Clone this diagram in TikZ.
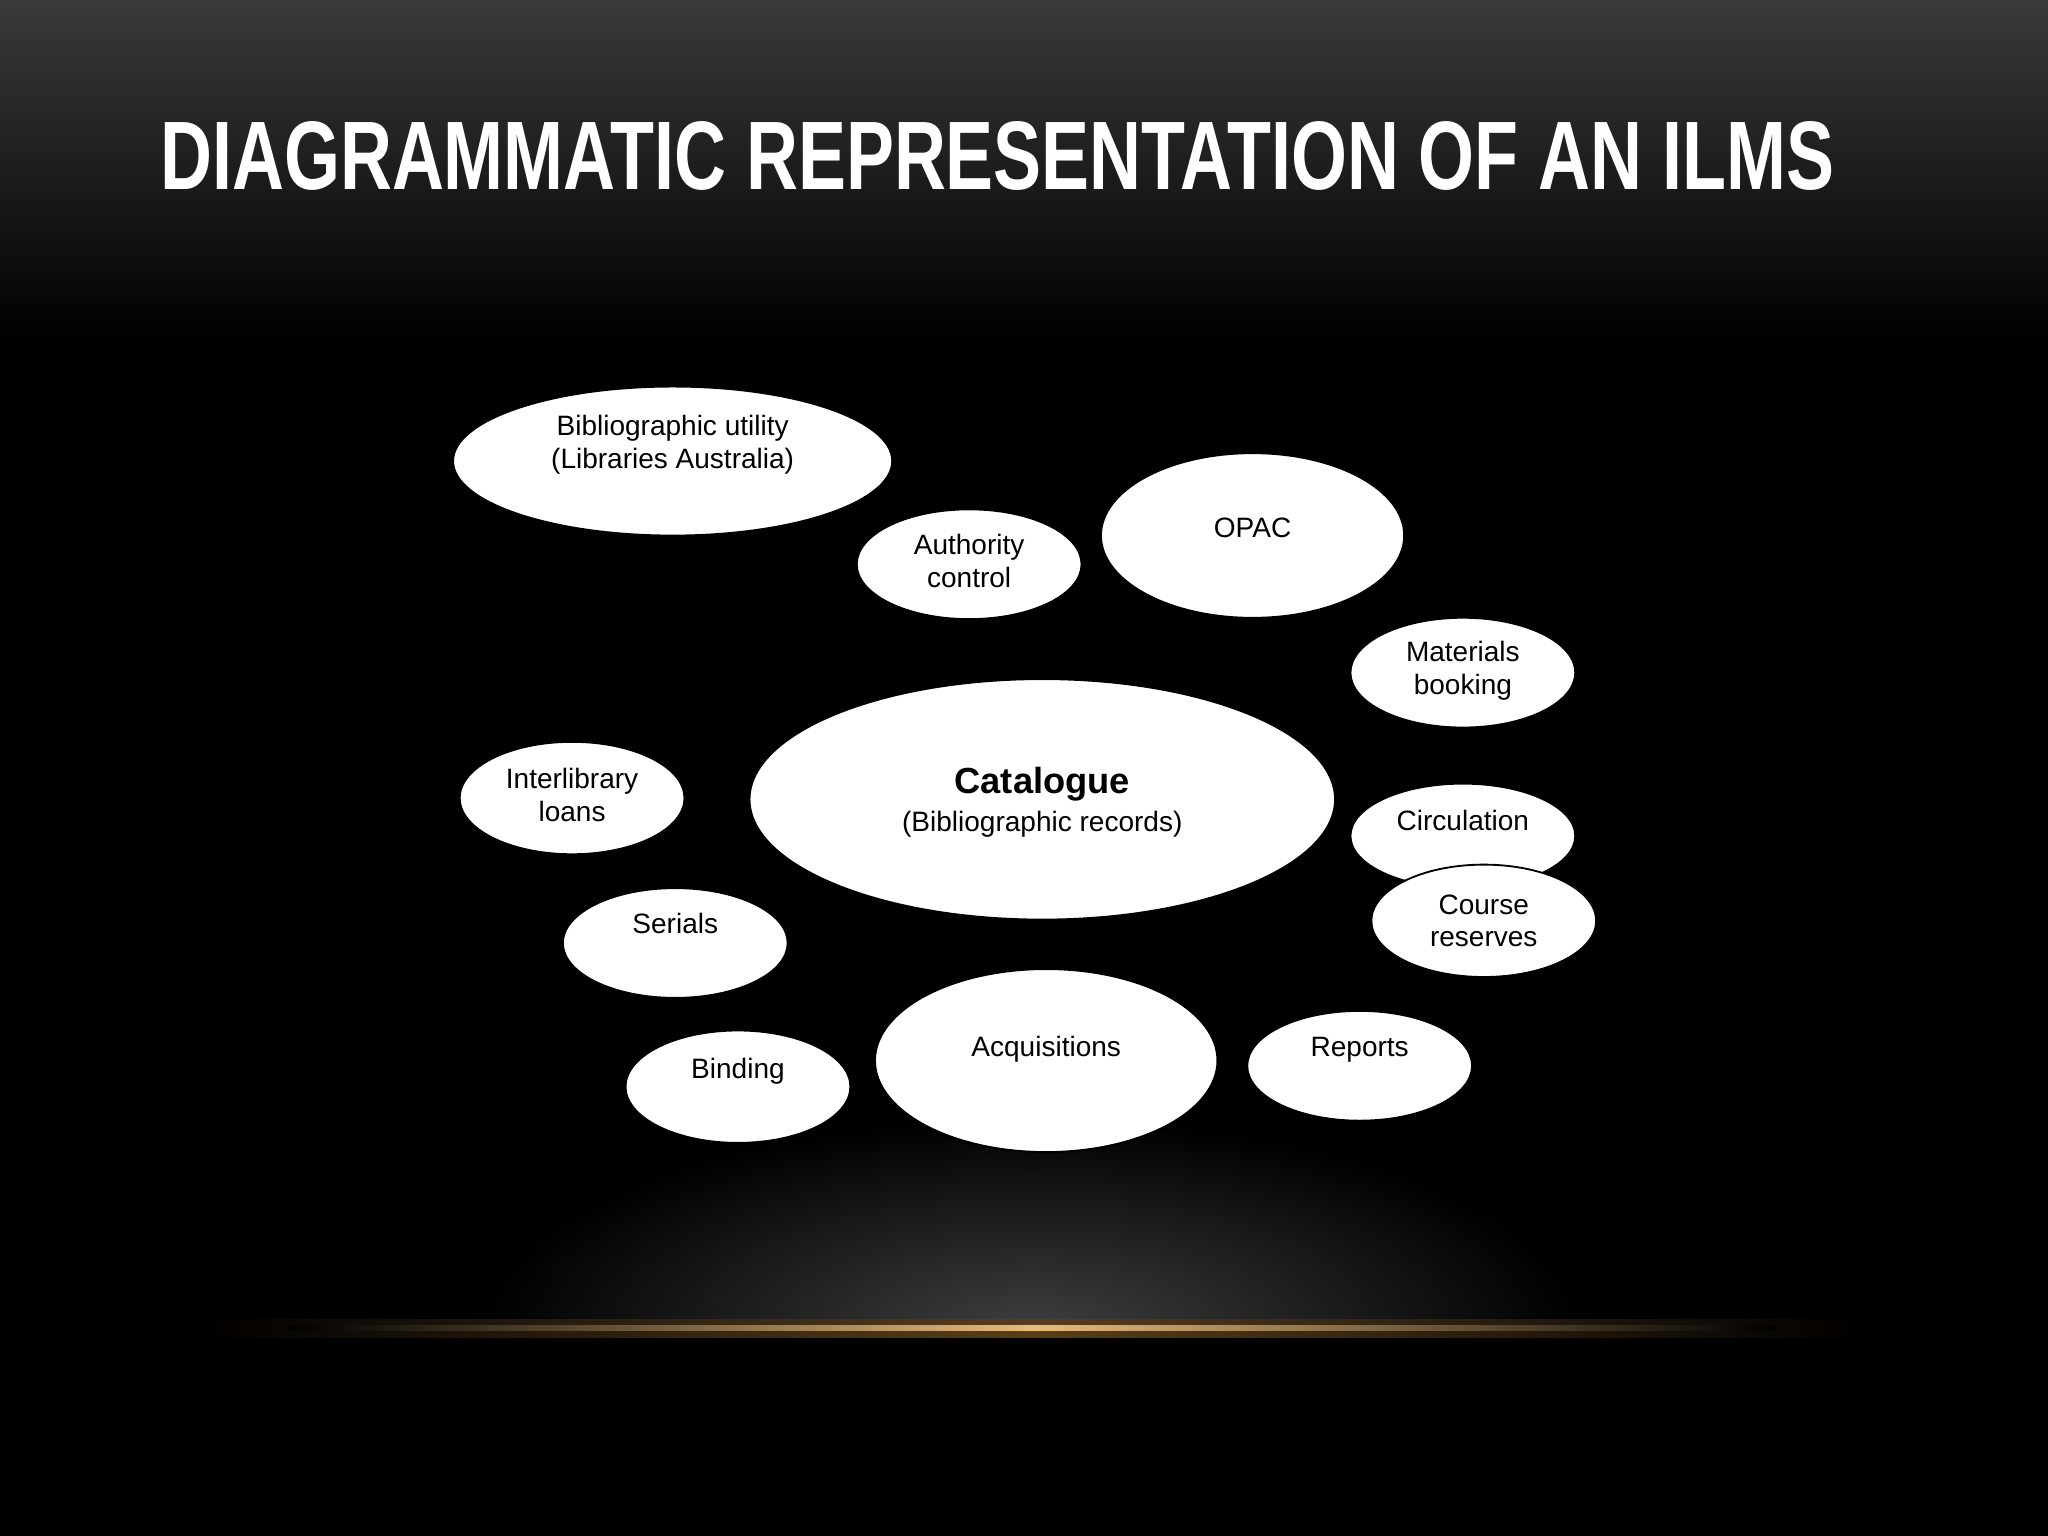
\documentclass[tikz,border=0pt]{standalone}
\usepackage{fontspec}
\setmainfont{Liberation Sans}
\usetikzlibrary{shapes.geometric}
\definecolor{topgray}{HTML}{3A3A3A}
\definecolor{glowgray}{HTML}{3E3E3E}
\definecolor{linegold}{HTML}{E8BC7C}
\definecolor{bandgold}{HTML}{5A3E1C}

\begin{document}
\begin{tikzpicture}[x=0.01cm,y=-0.01cm,
  module/.style={ellipse,fill=white,draw=black,thin,inner sep=0pt,align=center,
    text=black,font=\fontsize{6.1}{7.1}\selectfont}]
\useasboundingbox (0,0) rectangle (1568,1176);
\fill[black] (0,0) rectangle (1568,1176);
\shade[top color=topgray,bottom color=black] (0,0) rectangle (1568,260);
% spotlight above the line
\begin{scope}
  \clip (0,860) rectangle (1568,1017);
  \shade[inner color=glowgray,outer color=black] (790,1017) ellipse [x radius=420,y radius=160];
\end{scope}
\shade[left color=black,right color=black,middle color=bandgold] (150,1010) rectangle (1430,1024);
\shade[left color=black,right color=black,middle color=linegold] (220,1015) rectangle (1360,1019);
% title
\node[anchor=base west,inner sep=0pt,text=white] (title) at (122,145)
  {\resizebox{12.81cm}{0.52cm}{\bfseries DIAGRAMMATIC REPRESENTATION OF AN ILMS}};
% modules
\node[module,minimum width=3.36cm,minimum height=1.14cm,text depth=8.4pt] (bibutil) at (515,353) {Bibliographic utility\\(Libraries Australia)};
\node[module,minimum width=1.72cm,minimum height=0.84cm,text depth=1.4pt] (authority) at (742,432) {Authority\\control};
\node[module,minimum width=2.32cm,minimum height=1.26cm,text depth=3.4pt] (opac) at (959,410) {OPAC};
\node[module,minimum width=1.72cm,minimum height=0.84cm,text depth=2.2pt] (booking) at (1120,515) {Materials\\booking};
\node[module,minimum width=4.48cm,minimum height=1.84cm,text depth=-1.5pt,font=\fontsize{6.1}{8.3}\selectfont] (catalogue) at (798,612)
  {{\fontsize{7.9}{8.3}\selectfont\bfseries Catalogue}\\(Bibliographic records)};
\node[module,minimum width=1.72cm,minimum height=0.86cm,text depth=1.4pt] (ill) at (438,611) {Interlibrary\\loans};
\node[module,minimum width=1.72cm,minimum height=0.80cm,text depth=6.8pt] (circulation) at (1120,640) {Circulation};
\node[module,minimum width=1.72cm,minimum height=0.86cm] (reserves) at (1136,705) {Course\\reserves};
\node[module,minimum width=1.72cm,minimum height=0.84cm,text depth=8.5pt] (serials) at (517,722) {Serials};
\node[module,minimum width=1.72cm,minimum height=0.86cm,text depth=8.1pt] (binding) at (565,832) {Binding};
\node[module,minimum width=2.62cm,minimum height=1.40cm,text depth=6.4pt] (acquisitions) at (801,812) {Acquisitions};
\node[module,minimum width=1.72cm,minimum height=0.84cm,text depth=8.1pt] (reports) at (1041,816) {Reports};
\end{tikzpicture}
\end{document}
